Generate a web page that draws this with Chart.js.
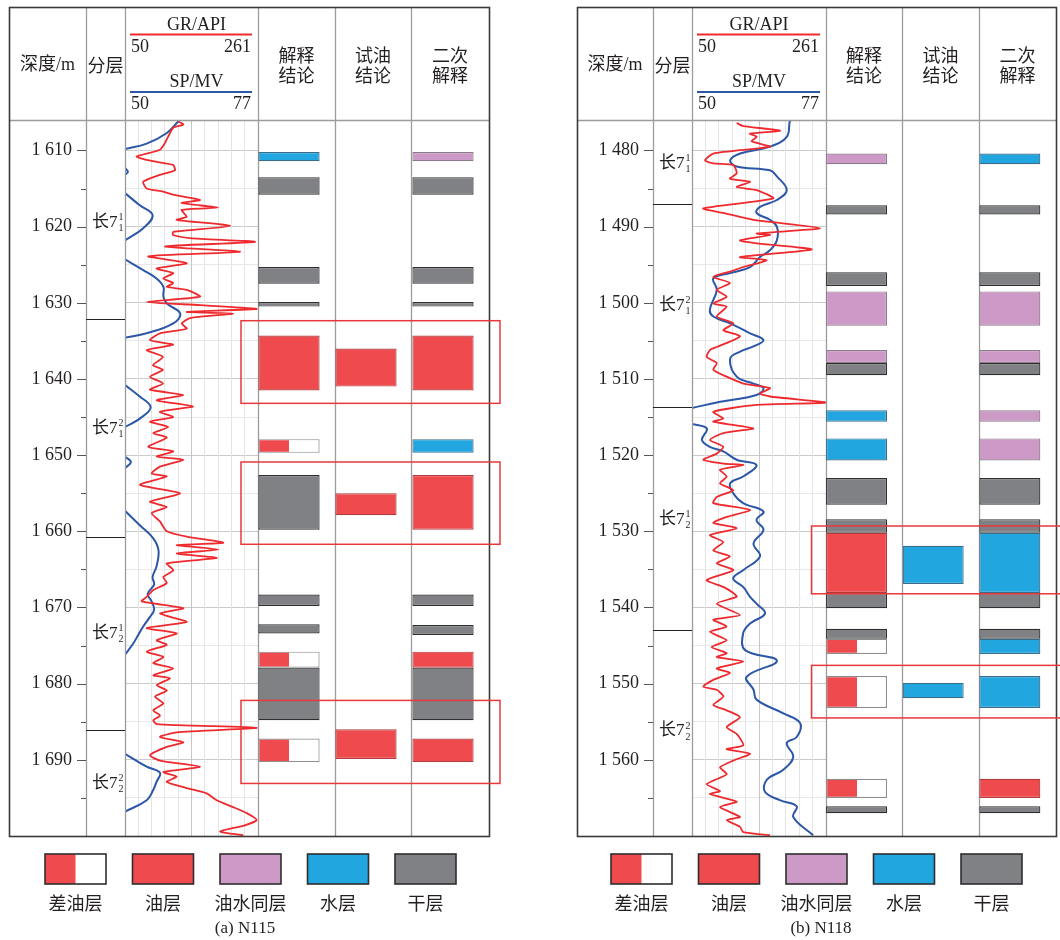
<!DOCTYPE html>
<html>
<head>
<meta charset="utf-8">
<script src="https://cdn.jsdelivr.net/npm/chart.js@4.4.1/dist/chart.umd.min.js"></script>
<style>
  html, body { margin: 0; padding: 0; background: #fff; }
  body { width: 1060px; height: 940px; position: relative; overflow: hidden; }
  canvas { position: absolute; top: 0; }
</style>
</head>
<body>
<canvas id="logA1" width="530" height="940" style="left:0px"></canvas>
<canvas id="logB1" width="300" height="940" style="left:230px"></canvas>
<canvas id="logA2" width="530" height="940" style="left:530px"></canvas>
<canvas id="logB2" width="270" height="940" style="left:790px"></canvas>
<script>
// ---------------- data ----------------
const LITHO_TYPES = ['差油层', '油层', '油水同层', '水层', '干层'];
const COLUMNS = ['解释结论', '试油结论', '二次解释'];
const GR_RANGE = [50, 261];
const SP_RANGE = [50, 77];

// well N115
const N115_DEPTH_RANGE = [1606, 1700];
const N115_GR = [
  [1606.2,134.6],[1606.6,142.5],[1607.0,126.6],[1607.7,121.4],[1609.0,113.5],[1609.9,105.5],[1610.8,68.6],[1611.25,84.4],[1611.5,100.3],[1611.9,126.2],
  [1612.6,129.3],[1613.2,105.5],[1614.1,79.0],[1615.0,84.4],[1615.4,110.3],[1615.8,126.2],[1616.5,169.0],[1616.9,140.0],[1617.5,197.5],[1617.8,140.0],
  [1618.7,147.9],[1619.1,132.0],[1619.9,216.6],[1620.7,126.6],[1621.1,126.2],[1621.5,153.1],[1622.0,256.2],[1622.6,113.5],[1623.3,232.4],[1623.9,87.0],
  [1624.8,147.9],[1625.5,100.3],[1626.1,126.6],[1626.8,110.8],[1627.4,126.6],[1627.9,116.2],[1628.3,147.9],[1629.2,169.0],[1629.9,84.4],[1630.3,169.0],
  [1630.8,258.9],[1631.2,147.9],[1631.4,221.3],[1632.0,153.1],[1632.7,140.0],[1633.4,147.9],[1634.0,105.5],[1634.9,89.7],[1635.5,126.6],[1636.2,84.4],
  [1637.1,110.3],[1638.2,94.4],[1638.8,110.3],[1639.7,89.7],[1640.6,110.3],[1641.4,89.7],[1642.1,142.0],[1642.8,100.3],[1643.6,157.9],[1644.3,105.5],
  [1645.0,126.2],[1645.6,89.7],[1646.3,118.7],[1647.1,94.9],[1647.7,116.2],[1648.9,87.0],[1649.5,126.6],[1650.2,100.3],[1650.6,142.5],[1651.5,105.5],
  [1652.4,92.4],[1652.8,116.2],[1653.9,73.8],[1655.0,137.3],[1656.1,89.7],[1656.8,116.2],[1657.6,92.4],[1658.7,105.5],[1660.0,116.2],[1660.7,147.9],
  [1661.5,206.0],[1661.8,132.0],[1662.4,198.0],[1662.9,132.0],[1663.5,195.5],[1664.2,116.2],[1665.1,126.6],[1666.0,110.8],[1666.8,116.2],[1667.7,94.9],
  [1668.6,84.4],[1669.2,76.5],[1670.1,142.5],[1670.8,105.5],[1671.9,147.9],[1672.7,84.4],[1673.4,132.0],[1674.3,100.3],[1674.9,116.2],[1675.8,84.4],
  [1676.5,110.8],[1677.3,94.9],[1678.0,126.6],[1678.9,94.9],[1679.3,121.4],[1680.2,100.3],[1680.9,116.2],[1681.7,97.6],[1682.6,110.8],[1683.5,94.9],
  [1684.2,105.5],[1684.8,94.9],[1685.3,100.3],[1685.8,258.9],[1686.4,132.0],[1687.0,105.5],[1687.7,142.5],[1688.3,116.2],[1689.4,89.7],[1690.1,105.5],
  [1690.9,169.0],[1691.6,110.8],[1692.2,132.0],[1692.9,116.2],[1693.7,147.9],[1694.4,179.6],[1695.3,195.5],[1696.2,221.3],[1697.0,243.1],[1697.9,258.9],
  [1698.6,240.0],[1699.4,200.7],[1699.9,237.7]
];
const N115_SP = [
  [1606.0,61.2],[1606.2,60.8],[1607.7,58.5],[1609.1,54.4],[1609.8,50.0],[1610.5,null],
  [1612.3,50.0],[1612.8,50.6],[1613.2,50.0],[1613.6,null],
  [1615.6,50.0],[1617.2,53.0],[1618.5,55.6],[1620.2,53.7],[1621.8,50.0],[1622.5,null],
  [1624.3,50.0],[1625.7,53.7],[1626.8,56.4],[1627.9,57.8],[1629.2,57.8],[1630.1,58.5],[1631.4,61.2],[1632.7,59.8],[1634.0,54.4],[1634.6,50.0],[1635.5,null],
  [1640.8,50.0],[1642.3,53.0],[1643.7,55.2],[1645.2,53.0],[1646.3,50.0],[1647.0,null],
  [1650.2,50.0],[1650.9,51.2],[1651.7,50.0],[1652.5,null],
  [1657.3,50.0],[1659.2,53.0],[1660.9,55.7],[1662.5,56.8],[1664.6,56.4],[1666.0,55.6],[1667.0,55.9],[1668.2,54.6],[1669.2,55.4],[1670.3,55.9],
  [1671.3,55.0],[1672.5,53.7],[1673.7,52.6],[1674.7,51.7],[1676.2,50.0],[1677.0,null],
  [1689.2,50.0],[1690.9,54.4],[1691.7,57.1],[1692.9,56.4],[1694.0,55.7],[1695.3,54.4],[1696.8,50.0]
];
const N115_LAYER_BOUNDS = [1632.1, 1660.8, 1686.1];
const N115_LAYER_MID = [1619.4, 1646.5, 1673.4, 1693.1];
const LAYER_SUP = ['1', '2', '1', '2'];
const LAYER_SUB = ['1', '1', '2', '2'];
const N115_INTERP = [
  ['水层',1610.2,1611.4],['干层',1613.5,1615.8],['干层',1625.3,1627.5],['干层',1629.9,1630.5],
  ['油层',1634.3,1641.5],['差油层',1647.9,1649.7],['干层',1652.6,1659.8],['干层',1668.3,1669.8],
  ['干层',1672.2,1673.4],['差油层',1675.8,1677.9],['干层',1677.9,1684.8],['差油层',1687.2,1690.3]
];
const N115_TEST = [['油层',1636.0,1641.0],['油层',1655.0,1657.9],['油层',1686.0,1689.9]];
const N115_REINTERP = [
  ['油水同层',1610.2,1611.4],['干层',1613.5,1615.8],['干层',1625.3,1627.5],['干层',1629.9,1630.5],
  ['油层',1634.3,1641.5],['水层',1647.9,1649.7],['油层',1652.6,1659.8],['干层',1668.3,1669.8],
  ['干层',1672.3,1673.6],['油层',1675.8,1677.9],['干层',1677.9,1684.8],['油层',1687.2,1690.3]
];
const N115_ZONES = [[1632.35,1643.2],[1650.9,1661.7],[1682.2,1693.1]];

// well N118
const N118_DEPTH_RANGE = [1476, 1570];
const N118_GR = [
  [1476.4,120.4],[1476.8,130.8],[1477.4,188.6],[1477.8,141.3],[1478.2,151.9],[1478.8,144.0],[1479.5,172.8],[1480.4,83.5],[1481.3,70.5],[1481.7,83.5],
  [1481.9,115.0],[1483.0,120.4],[1483.7,109.8],[1484.1,141.3],[1484.8,120.4],[1485.2,151.9],[1486.3,178.0],[1487.6,67.8],[1488.2,99.3],[1489.1,146.5],
  [1490.2,251.6],[1490.9,151.9],[1491.1,172.8],[1491.8,125.6],[1492.2,151.9],[1493.0,238.5],[1494.0,125.6],[1494.4,167.6],[1495.3,130.8],[1495.9,109.8],
  [1496.6,83.5],[1497.4,109.8],[1498.3,88.9],[1499.2,104.6],[1500.1,83.5],[1500.5,104.6],[1501.8,88.9],[1502.7,115.0],[1503.6,99.3],[1504.4,125.6],
  [1505.8,88.9],[1506.2,78.3],[1507.1,73.1],[1507.9,88.9],[1508.8,83.5],[1509.7,104.6],[1510.6,130.8],[1511.2,172.8],[1511.9,157.1],[1512.3,172.8],
  [1513.1,262.0],[1513.4,151.9],[1514.3,83.5],[1515.2,99.3],[1515.6,83.5],[1516.5,146.5],[1517.1,99.3],[1518.0,78.3],[1518.9,99.3],[1519.8,88.9],
  [1520.6,67.8],[1521.1,99.3],[1521.3,130.8],[1521.9,94.1],[1522.8,104.6],[1523.7,94.1],[1524.6,115.0],[1525.5,88.9],[1526.3,83.5],[1527.2,141.3],
  [1528.1,104.6],[1528.9,83.5],[1529.6,120.4],[1530.5,78.3],[1531.4,99.3],[1532.5,83.5],[1533.3,109.8],[1534.2,88.9],[1535.1,115.0],[1536.4,73.1],
  [1537.3,99.3],[1538.1,115.0],[1538.6,120.4],[1539.5,88.9],[1541.0,125.6],[1541.6,83.5],[1542.5,104.6],[1543.2,78.3],[1544.3,104.6],[1545.2,81.0],
  [1546.0,104.6],[1546.5,88.9],[1547.1,130.8],[1548.0,88.9],[1548.6,109.8],[1549.5,83.5],[1550.4,67.8],[1550.8,88.9],[1551.7,99.3],[1552.8,83.5],
  [1553.5,104.6],[1554.4,125.6],[1555.7,104.6],[1556.6,120.4],[1558.1,130.8],[1558.6,104.6],[1559.2,141.3],[1560.1,115.0],[1561.0,94.1],[1561.9,104.6],
  [1563.2,73.1],[1564.1,94.1],[1564.5,78.3],[1565.5,120.4],[1566.2,94.1],[1567.5,125.6],[1567.9,104.6],[1568.8,125.6],[1569.5,130.8],[1569.9,172.8]
];
const N118_SP = [
  [1476.0,70.0],[1476.2,69.7],[1478.2,69.1],[1479.5,65.7],[1480.4,59.7],[1481.3,57.7],[1482.1,59.0],[1482.6,65.7],[1483.4,67.1],[1485.2,69.1],
  [1486.5,67.1],[1487.4,63.7],[1488.2,63.0],[1489.1,65.7],[1490.0,67.1],[1491.8,67.1],[1493.1,65.7],[1494.0,63.7],[1495.3,61.7],[1496.1,57.7],
  [1496.8,54.3],[1498.3,55.0],[1500.9,53.6],[1501.8,54.3],[1502.7,57.7],[1504.0,61.7],[1504.9,64.4],[1505.7,62.5],[1506.4,59.7],[1507.3,57.7],
  [1509.7,59.0],[1510.6,62.4],[1511.2,64.4],[1512.1,63.0],[1513.0,55.7],[1513.8,50.0],[1514.5,null],
  [1515.9,50.0],[1516.5,53.0],[1518.0,52.0],[1518.9,53.6],[1519.5,56.3],[1520.6,59.0],[1521.3,63.0],[1522.8,60.3],[1523.7,57.7],[1525.0,58.3],
  [1526.3,60.3],[1527.4,64.4],[1528.5,63.0],[1529.8,64.4],[1531.6,62.4],[1533.3,63.7],[1535.1,60.3],[1536.2,58.3],[1537.3,60.3],[1538.6,61.7],
  [1539.5,63.0],[1540.8,64.7],[1542.1,61.7],[1543.4,60.3],[1545.6,60.7],[1547.0,67.1],[1549.1,61.0],[1550.8,62.4],[1552.1,63.0],[1553.9,68.4],
  [1555.2,71.8],[1557.0,71.1],[1557.8,69.1],[1559.6,70.4],[1561.3,68.4],[1562.6,65.1],[1564.2,64.7],[1565.3,67.7],[1566.1,71.1],[1567.5,70.4],
  [1569.9,74.4]
];
const N118_LAYER_BOUNDS = [1487.0, 1513.7, 1542.9];
const N118_LAYER_MID = [1481.7, 1500.3, 1528.4, 1556.2];
const N118_INTERP = [
  ['油水同层',1480.4,1481.8],['干层',1487.2,1488.4],['干层',1496.0,1497.8],['油水同层',1498.5,1503.0],
  ['油水同层',1506.2,1507.9],['干层',1507.9,1509.5],['水层',1514.1,1515.6],['水层',1517.8,1520.7],
  ['干层',1523.0,1526.5],['干层',1528.4,1530.2],['油层',1530.2,1538.1],['干层',1538.1,1540.1],
  ['干层',1542.8,1544.1],['差油层',1544.1,1546.1],['差油层',1549.0,1553.2],['差油层',1562.5,1565.0],['干层',1566.1,1567.0]
];
const N118_TEST = [['水层',1531.9,1536.9],['水层',1549.9,1551.9]];
const N118_REINTERP = [
  ['水层',1480.4,1481.8],['干层',1487.2,1488.4],['干层',1496.0,1497.8],['油水同层',1498.5,1503.0],
  ['油水同层',1506.2,1507.9],['干层',1507.9,1509.5],['油水同层',1514.1,1515.6],['油水同层',1517.8,1520.7],
  ['干层',1523.0,1526.5],['干层',1528.4,1530.2],['水层',1530.2,1538.1],['干层',1538.1,1540.1],
  ['干层',1542.8,1544.1],['水层',1544.1,1546.1],['水层',1549.0,1553.2],['油层',1562.5,1565.0],['干层',1566.1,1567.0]
];
const N118_ZONES = [[1529.3,1538.2],[1547.6,1554.5]];

// ---------------- styles & layout ----------------
const GR_COLOR = '#ee2a2e';
const SP_COLOR = '#2c57a7';
const OIL_RED = '#ef4b4f';
const TYPE_STYLE = {
  '差油层':   { fill: null,      border: '#8e8e8e' },
  '油层':     { fill: OIL_RED,   border: '#b03c3e' },
  '油水同层': { fill: '#cd99c6', border: '#8c7b8a' },
  '水层':     { fill: '#22a6df', border: '#3b6d88' },
  '干层':     { fill: '#808185', border: '#2e2e2e' }
};
const BAR_PCT = 0.795;
const SERIF = '"Liberation Serif", "Noto Sans CJK SC"';
const CJK = '"Noto Sans CJK SC"';
const INK = '#231f20';

const PANELS = [
  { a: 'logA1', b: 'logB1', offA: 0, offB: 230, widthB: 300,
    L: 9, R: 489, top: 7, head: 120, bottom: 836,
    depthR: 86, layerR: 125, trackR: 258, cols: [258, 335, 411, 489],
    bandL: 250.5, bandR: 481.5, zoneL: 241, zoneR: 500, titleShift: 5,
    legendX0: 45, caption: '(a) N115', captionX: 245,
    range: N115_DEPTH_RANGE, gr: N115_GR, sp: N115_SP,
    bounds: N115_LAYER_BOUNDS, mids: N115_LAYER_MID,
    interp: N115_INTERP, test: N115_TEST, reinterp: N115_REINTERP, zones: N115_ZONES },
  { a: 'logA2', b: 'logB2', offA: 530, offB: 790, widthB: 270,
    L: 577, R: 1056, top: 7, head: 120, bottom: 836,
    depthR: 653, layerR: 692, trackR: 826, cols: [826, 902, 979, 1056],
    bandL: 818.2, bandR: 1048.2, zoneL: 811.5, zoneR: 1080, titleShift: 0,
    legendX0: 611, caption: '(b) N118', captionX: 821,
    range: N118_DEPTH_RANGE, gr: N118_GR, sp: N118_SP,
    bounds: N118_LAYER_BOUNDS, mids: N118_LAYER_MID,
    interp: N118_INTERP, test: N118_TEST, reinterp: N118_REINTERP, zones: N118_ZONES }
];

// ---------------- helpers ----------------
function seg(ctx, x1, y1, x2, y2) {
  ctx.beginPath(); ctx.moveTo(x1, y1); ctx.lineTo(x2, y2); ctx.stroke();
}
function depthLabel(v) {
  const s = String(v);
  return s.slice(0, 1) + ' ' + s.slice(1);
}
function toPoints(pairs) {
  return pairs.map(p => ({ x: p[1], y: p[0] }));
}
function drawSwatch(ctx, type, x, y, w, h) {
  const st = TYPE_STYLE[type];
  if (st.fill) {
    ctx.fillStyle = st.fill; ctx.fillRect(x, y, w, h);
  } else {
    ctx.fillStyle = '#fff'; ctx.fillRect(x, y, w, h);
    ctx.fillStyle = OIL_RED; ctx.fillRect(x, y, w / 2, h);
  }
  ctx.strokeStyle = '#2e2e2e'; ctx.lineWidth = 1.6;
  ctx.strokeRect(x, y, w, h);
}

// table frame, headers, depth ticks, layer column, legend
function logTablePlugin(cfg) {
  return {
    id: 'logTable',
    afterDraw(chart) {
      const ctx = chart.ctx, ys = chart.scales.y, o = cfg.offA;
      const X = v => v - o;
      ctx.save();

      // inner column rules
      ctx.strokeStyle = '#9c9c9c'; ctx.lineWidth = 1.3;
      [cfg.depthR, cfg.layerR, cfg.trackR, cfg.cols[1], cfg.cols[2]].forEach(x => {
        seg(ctx, X(x) + 0.5, cfg.top, X(x) + 0.5, cfg.bottom);
      });
      seg(ctx, X(cfg.L), cfg.head + 0.5, X(cfg.R), cfg.head + 0.5);

      // layer boundaries
      ctx.strokeStyle = '#222'; ctx.lineWidth = 1.2;
      cfg.bounds.forEach(b => {
        const y = Math.round(ys.getPixelForValue(b)) + 0.5;
        seg(ctx, X(cfg.depthR), y, X(cfg.layerR), y);
      });

      // depth tick marks
      ctx.strokeStyle = '#555'; ctx.lineWidth = 1;
      ys.ticks.forEach(t => {
        const y = Math.round(ys.getPixelForValue(t.value)) + 0.5;
        const len = t.value % 10 === 0 ? 9 : 5;
        seg(ctx, X(cfg.depthR) - len, y, X(cfg.depthR), y);
      });

      // layer names
      ctx.fillStyle = INK;
      ctx.textBaseline = 'middle';
      cfg.mids.forEach((m, i) => {
        const y = ys.getPixelForValue(m);
        const x0 = X(cfg.depthR) + 6;
        ctx.font = '17px ' + SERIF; ctx.textAlign = 'left';
        ctx.fillText('长7', x0, y);
        const w = ctx.measureText('长7').width;
        ctx.font = '10px "Liberation Serif"';
        ctx.fillText(LAYER_SUP[i], x0 + w + 1, y - 5);
        ctx.fillText(LAYER_SUB[i], x0 + w + 1, y + 6);
      });

      // header: depth & layer
      ctx.textAlign = 'center';
      ctx.font = '18px ' + SERIF;
      ctx.fillText('深度/m', (X(cfg.L) + X(cfg.depthR)) / 2, 65);
      ctx.font = '18px ' + CJK;
      ctx.fillText('分层', (X(cfg.depthR) + X(cfg.layerR)) / 2, 65);

      // header: curve track
      const tl = X(cfg.layerR), tr = X(cfg.trackR);
      const tc = (tl + tr) / 2 + cfg.titleShift;
      ctx.font = '18px "Liberation Serif"';
      ctx.fillText('GR/API', tc, 25);
      ctx.fillText('SP/MV', tc, 82);
      ctx.lineWidth = 2.2;
      ctx.strokeStyle = GR_COLOR; seg(ctx, tl + 5, 34.5, tr - 6, 34.5);
      ctx.strokeStyle = SP_COLOR; seg(ctx, tl + 5, 92, tr - 6, 92);
      ctx.textAlign = 'left';
      ctx.fillText(String(GR_RANGE[0]), tl + 6, 47);
      ctx.fillText(String(SP_RANGE[0]), tl + 6, 104);
      ctx.textAlign = 'right';
      ctx.fillText(String(GR_RANGE[1]), tr - 7, 47);
      ctx.fillText(String(SP_RANGE[1]), tr - 7, 104);

      // header: interpretation columns
      const heads = [['解释', '结论'], ['试油', '结论'], ['二次', '解释']];
      ctx.font = '18px ' + CJK; ctx.textAlign = 'center';
      heads.forEach((h, i) => {
        const cx = (X(cfg.cols[i]) + X(cfg.cols[i + 1])) / 2;
        ctx.fillText(h[0], cx, 55);
        ctx.fillText(h[1], cx, 75);
      });

      // outer frame
      ctx.strokeStyle = '#3a3a3a'; ctx.lineWidth = 1.6;
      ctx.strokeRect(X(cfg.L) + 0.5, cfg.top + 0.5, cfg.R - cfg.L, cfg.bottom - cfg.top);

      // legend
      LITHO_TYPES.forEach((t, i) => {
        const bx = X(cfg.legendX0) + i * 87.5;
        drawSwatch(ctx, t, bx, 854, 61, 30);
        ctx.fillStyle = INK; ctx.font = '18px ' + CJK; ctx.textAlign = 'center';
        ctx.fillText(t, bx + 30.5, 903);
      });
      ctx.font = '17px "Liberation Serif"';
      ctx.fillText(cfg.caption, X(cfg.captionX), 929);
      ctx.restore();
    }
  };
}

// highlighted intervals across the result columns
function zonePlugin(cfg) {
  return {
    id: 'zones',
    afterDatasetsDraw(chart) {
      const ctx = chart.ctx, ys = chart.scales.y;
      ctx.save();
      ctx.strokeStyle = '#e8383b'; ctx.lineWidth = 1.5;
      cfg.zones.forEach(z => {
        const y1 = ys.getPixelForValue(z[0]), y2 = ys.getPixelForValue(z[1]);
        ctx.strokeRect(cfg.zoneL - cfg.offB, y1, cfg.zoneR - cfg.zoneL, y2 - y1);
      });
      ctx.restore();
    }
  };
}

function splitFill(c) {
  const chart = c.chart, area = chart.chartArea;
  if (!area || !c.raw) return OIL_RED;
  const idx = COLUMNS.indexOf(c.raw.x);
  const band = (area.right - area.left) / COLUMNS.length;
  const cx = area.left + band * (idx + 0.5);
  const w = band * BAR_PCT;
  const g = chart.ctx.createLinearGradient(cx - w / 2, 0, cx + w / 2, 0);
  g.addColorStop(0, OIL_RED); g.addColorStop(0.5, OIL_RED);
  g.addColorStop(0.5, '#ffffff'); g.addColorStop(1, '#ffffff');
  return g;
}

Chart.defaults.font.family = '"Liberation Serif"';

PANELS.forEach(cfg => {
  const [dMin, dMax] = cfg.range;

  // curve track with depth axis
  new Chart(document.getElementById(cfg.a), {
    type: 'line',
    data: {
      datasets: [
        { label: 'GR', data: toPoints(cfg.gr), xAxisID: 'xGR', yAxisID: 'y',
          borderColor: GR_COLOR, borderWidth: 1.8, pointRadius: 0, tension: 0.2, fill: false },
        { label: 'SP', data: toPoints(cfg.sp), xAxisID: 'xSP', yAxisID: 'y',
          borderColor: SP_COLOR, borderWidth: 2, pointRadius: 0, tension: 0.4, fill: false, spanGaps: false }
      ]
    },
    options: {
      responsive: false, animation: false, events: [], devicePixelRatio: 1,
      layout: { padding: { left: cfg.L - cfg.offA, top: cfg.head, bottom: 940 - cfg.bottom,
                           right: 530 - (cfg.trackR - cfg.offA) } },
      plugins: { legend: { display: false }, tooltip: { enabled: false } },
      scales: {
        y: {
          type: 'linear', position: 'left', reverse: true, min: dMin, max: dMax,
          afterFit: s => { s.width = cfg.layerR - cfg.L; },
          afterBuildTicks: s => { s.ticks = s.ticks.filter(t => t.value % 5 === 0 && t.value > dMin && t.value < dMax); },
          ticks: { stepSize: 5, autoSkip: false, padding: 53, color: INK,
                   font: { family: '"Liberation Serif"', size: 18 },
                   callback: v => (v % 10 === 0 ? depthLabel(v) : '') },
          grid: { drawTicks: false, lineWidth: 1,
                  color: c => (c.tick && c.tick.value % 10 === 0 ? '#cbcbcb' : '#e8e8e8') },
          border: { display: false }
        },
        xGR: { type: 'linear', min: GR_RANGE[0], max: GR_RANGE[1], display: false },
        xSP: { type: 'linear', min: SP_RANGE[0], max: SP_RANGE[1], display: false },
        xGrid: {
          type: 'linear', position: 'bottom', min: 0, max: 10,
          afterFit: s => { s.height = 0; },
          ticks: { display: false, stepSize: 1 },
          grid: { drawTicks: false, lineWidth: 1,
                  color: c => (c.tick && c.tick.value === 5 ? '#c6c6c6' : '#e4e4e4') },
          border: { display: false }
        }
      }
    },
    plugins: [logTablePlugin(cfg)]
  });

  // interpretation / test / re-interpretation columns
  const columnRows = [cfg.interp, cfg.test, cfg.reinterp];
  const datasets = LITHO_TYPES.map(type => {
    const data = [];
    columnRows.forEach((rows, ci) => rows.forEach(r => {
      if (r[0] === type) data.push({ x: COLUMNS[ci], y: [r[1], r[2]] });
    }));
    const st = TYPE_STYLE[type];
    return {
      label: type, data,
      backgroundColor: st.fill ? st.fill : splitFill,
      borderColor: st.border, borderWidth: 1.2, borderSkipped: false,
      grouped: false, barPercentage: BAR_PCT, categoryPercentage: 1
    };
  });

  new Chart(document.getElementById(cfg.b), {
    type: 'bar',
    data: { labels: COLUMNS, datasets },
    options: {
      responsive: false, animation: false, events: [], devicePixelRatio: 1,
      layout: { padding: { left: cfg.bandL - cfg.offB, right: cfg.widthB - (cfg.bandR - cfg.offB),
                           top: cfg.head, bottom: 940 - cfg.bottom } },
      plugins: { legend: { display: false }, tooltip: { enabled: false } },
      scales: {
        x: { type: 'category', display: false },
        y: { type: 'linear', display: false, reverse: true, min: dMin, max: dMax }
      }
    },
    plugins: [zonePlugin(cfg)]
  });
});
</script>
</body>
</html>
